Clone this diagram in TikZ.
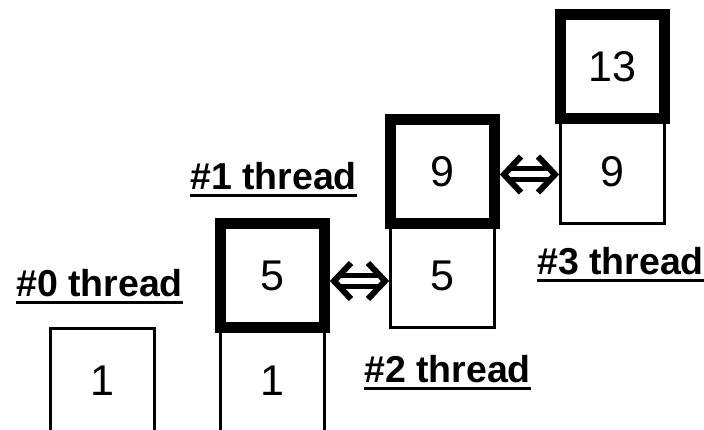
\documentclass[tikz,border=0pt]{standalone}
\usepackage{fontspec}
\setmainfont{Liberation Sans}
\usetikzlibrary{calc}
\begin{document}
\begin{tikzpicture}[x=1pt,y=1pt,
  thinbox/.style={draw, line width=3pt, minimum size=104pt, inner sep=0pt, fill=white,
    font=\fontsize{43}{50}\selectfont},
  thickbox/.style={draw, line width=11pt, minimum size=104pt, inner sep=0pt, fill=white,
    font=\fontsize{43}{50}\selectfont},
  lbl/.style={anchor=base west, inner sep=0pt, font=\fontsize{37.5}{44}\selectfont\bfseries},
  uline/.style={line width=3pt},
  arm/.style={line width=6pt, line join=miter},
  bar/.style={line width=5pt}]
\useasboundingbox (0,0) rectangle (704,430);
% boxes
\node[thinbox] (t1a) at (102.5,49.5) {1};
\node[thinbox] (t1b) at (272.5,49.5) {1};
\node[thickbox] (b5) at (272.5,154) {5};
\node[thinbox] (t5) at (442.5,154) {5};
\node[thickbox] (b9) at (442.5,258) {9};
\node[thinbox] (t9) at (612.5,258) {9};
\node[thickbox] (b13) at (612.5,363) {13};
% labels
\node[lbl] (l0) at (16,133) {\#0 thread};
\node[lbl] (l1) at (190,240) {\#1 thread};
\node[lbl] (l2) at (364,47) {\#2 thread};
\node[lbl] (l3) at (537,155) {\#3 thread};
\foreach \l in {l0,l1,l2,l3}
  \draw[uline] ([yshift=-5.5pt]\l.base west) -- ([yshift=-5.5pt]\l.base east);
% arrow 1 (b5 <-> t5)
\draw[bar] ([shift={(9.5,0.5)}]b5.east) -- ([shift={(-9.5,0.5)}]t5.west);
\draw[bar] ([shift={(9.5,-10.5)}]b5.east) -- ([shift={(-9.5,-10.5)}]t5.west);
\draw[arm] ([shift={(21,13)}]b5.east) -- ([shift={(4,-5)}]b5.east) -- ([shift={(21,-23)}]b5.east);
\draw[arm] ([shift={(-21,13)}]t5.west) -- ([shift={(-4,-5)}]t5.west) -- ([shift={(-21,-23)}]t5.west);
% arrow 2 (b9 <-> t9)
\draw[bar] ([shift={(9.5,3)}]b9.east) -- ([shift={(-9.5,3)}]t9.west);
\draw[bar] ([shift={(9.5,-8)}]b9.east) -- ([shift={(-9.5,-8)}]t9.west);
\draw[arm] ([shift={(21,15.5)}]b9.east) -- ([shift={(4,-2.5)}]b9.east) -- ([shift={(21,-20.5)}]b9.east);
\draw[arm] ([shift={(-21,15.5)}]t9.west) -- ([shift={(-4,-2.5)}]t9.west) -- ([shift={(-21,-20.5)}]t9.west);
\end{tikzpicture}
\end{document}
